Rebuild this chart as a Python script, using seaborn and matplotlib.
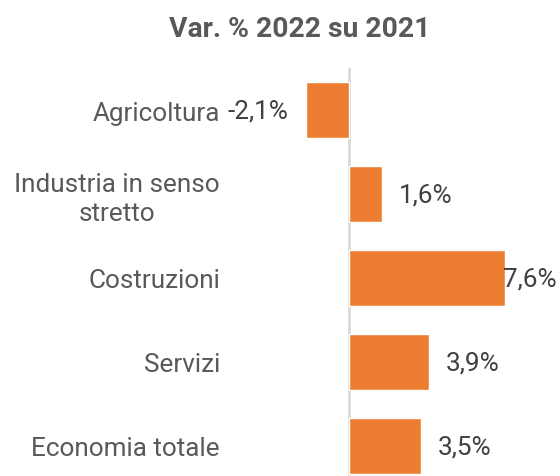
import pandas as pd
import matplotlib
matplotlib.use('Agg')
import matplotlib.pyplot as plt
import seaborn as sns

# Dati
settori = ['Agricoltura', 'Industria in senso\nstretto', 'Costruzioni', 'Servizi', 'Economia totale']
variazioni = [-2.1, 1.6, 7.6, 3.9, 3.5]
etichette = ['-2,1%', '1,6%', '7,6%', '3,9%', '3,5%']

sns.set_theme(style='white')
plt.rcParams['font.family'] = ['Roboto', 'DejaVu Sans']

df = pd.DataFrame({'settore': settori, 'var': variazioni})

fig = plt.figure(figsize=(5.6, 4.77), dpi=100)
W, H = 560, 477
# asse: zero a x=349, ~20.5 px per punto percentuale
x0, x1 = -2.5, 8.0
left_px = 349 - 2.5 * 20.5
right_px = 349 + 8.0 * 20.5
top_px, bot_px = 69, 489
ax = fig.add_axes([left_px / W, 1 - bot_px / H, (right_px - left_px) / W, (bot_px - top_px) / H])

sns.barplot(data=df, x='var', y='settore', orient='h', color='#ED7D31',
            width=0.667, saturation=1, ax=ax)

ax.set_xlim(x0, x1)
ax.set_ylim(4.5, -0.5)
ax.axvline(0, color='#D9D9D9', lw=2, zorder=0)
for s in ax.spines.values():
    s.set_visible(False)
ax.set_xticks([])
ax.set_xlabel('')
ax.set_ylabel('')
ax.tick_params(axis='y', length=0, pad=56, labelsize=18.8, labelcolor='#595959')
for lab in ax.get_yticklabels():
    lab.set_multialignment('center')
    lab.set_linespacing(1.25)

# etichette dei valori
for i, (v, t) in enumerate(zip(variazioni, etichette)):
    if v < 0:
        off, ha = -13, 'right'
    elif v > 7:
        off, ha = -1, 'left'
    else:
        off, ha = 12, 'left'
    ax.annotate(t, (v, i), xytext=(off, 0), textcoords='offset points',
                ha=ha, va='center', fontsize=18.8, color='#404040', annotation_clip=False)

fig.text(300 / W, 1 - 37 / H, 'Var. % 2022 su 2021', ha='center', va='baseline',
         fontsize=20.3, fontweight='bold', color='#595959')

fig.savefig('out.png', dpi=100)
